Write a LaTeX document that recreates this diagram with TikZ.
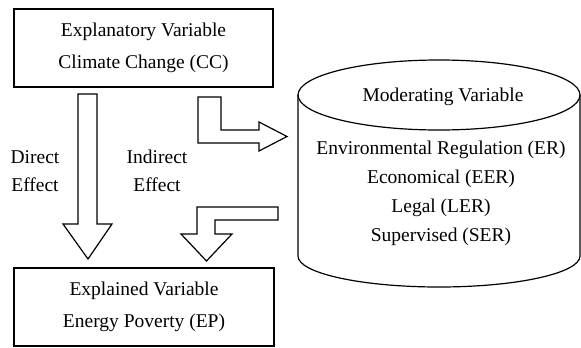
\documentclass[tikz,border=0pt]{standalone}
\usepackage{fontspec}
\setmainfont{Liberation Serif}
\usetikzlibrary{calc}
\begin{document}
\begin{tikzpicture}[x=1pt,y=-1pt,
  varbox/.style={draw,line width=1.1pt,minimum width=259pt,minimum height=78pt,
    align=center,inner sep=0pt,font=\fontsize{19.5}{32}\selectfont},
  plain/.style={align=center,inner sep=0pt,font=\fontsize{19.5}{28}\selectfont},
  blockarrow/.style={draw,line width=1.2pt,line join=miter,fill=white}]
\useasboundingbox (0,0) rectangle (581,348);

% explanatory and explained variables
\node[varbox] (cc) at (143.5,48) {Explanatory Variable\\Climate Change (CC)};
\node[varbox,minimum width=260pt] (ep) at (144,307) {Explained Variable\\Energy Poverty (EP)};

% moderating variable drum
\coordinate (drumtop) at (439,95);
\coordinate (drumbot) at (439,256);
\draw[line width=1.2pt] (drumtop) ellipse [x radius=141, y radius=35];
\draw[line width=1.2pt] ($(drumtop)+(-141,0)$) -- ($(drumbot)+(-141,0)$)
  arc [start angle=180, end angle=0, x radius=141, y radius=31]
  -- ($(drumtop)+(141,0)$);
\node[plain] (modtitle) at (443,97) {Moderating Variable};
\node[plain,font=\fontsize{19.5}{29}\selectfont] (modlist) at (441,193)
  {Environmental Regulation (ER)\\Economical (EER)\\Legal (LER)\\Supervised (SER)};

% direct effect arrow
\draw[blockarrow] (78,94) -- (97,94) -- (97,224) -- (112,224) -- (88,259)
  -- (63,224) -- (78,224) -- cycle;
% indirect effect: towards the moderator
\draw[blockarrow] (198,97) -- (221,97) -- (221,130) -- (259,130) -- (259,122)
  -- (287,136.5) -- (259,151) -- (259,143) -- (198,143) -- cycle;
% indirect effect: from the moderator down to the outcome
\draw[blockarrow] (278,207) -- (278,220) -- (215,220) -- (215,234) -- (232,234)
  -- (206.5,261) -- (181,234) -- (197,234) -- (197,207) -- cycle;

\node[plain] (direct) at (35,171) {Direct\\Effect};
\node[plain] (indirect) at (157,171) {Indirect\\Effect};
\end{tikzpicture}
\end{document}
